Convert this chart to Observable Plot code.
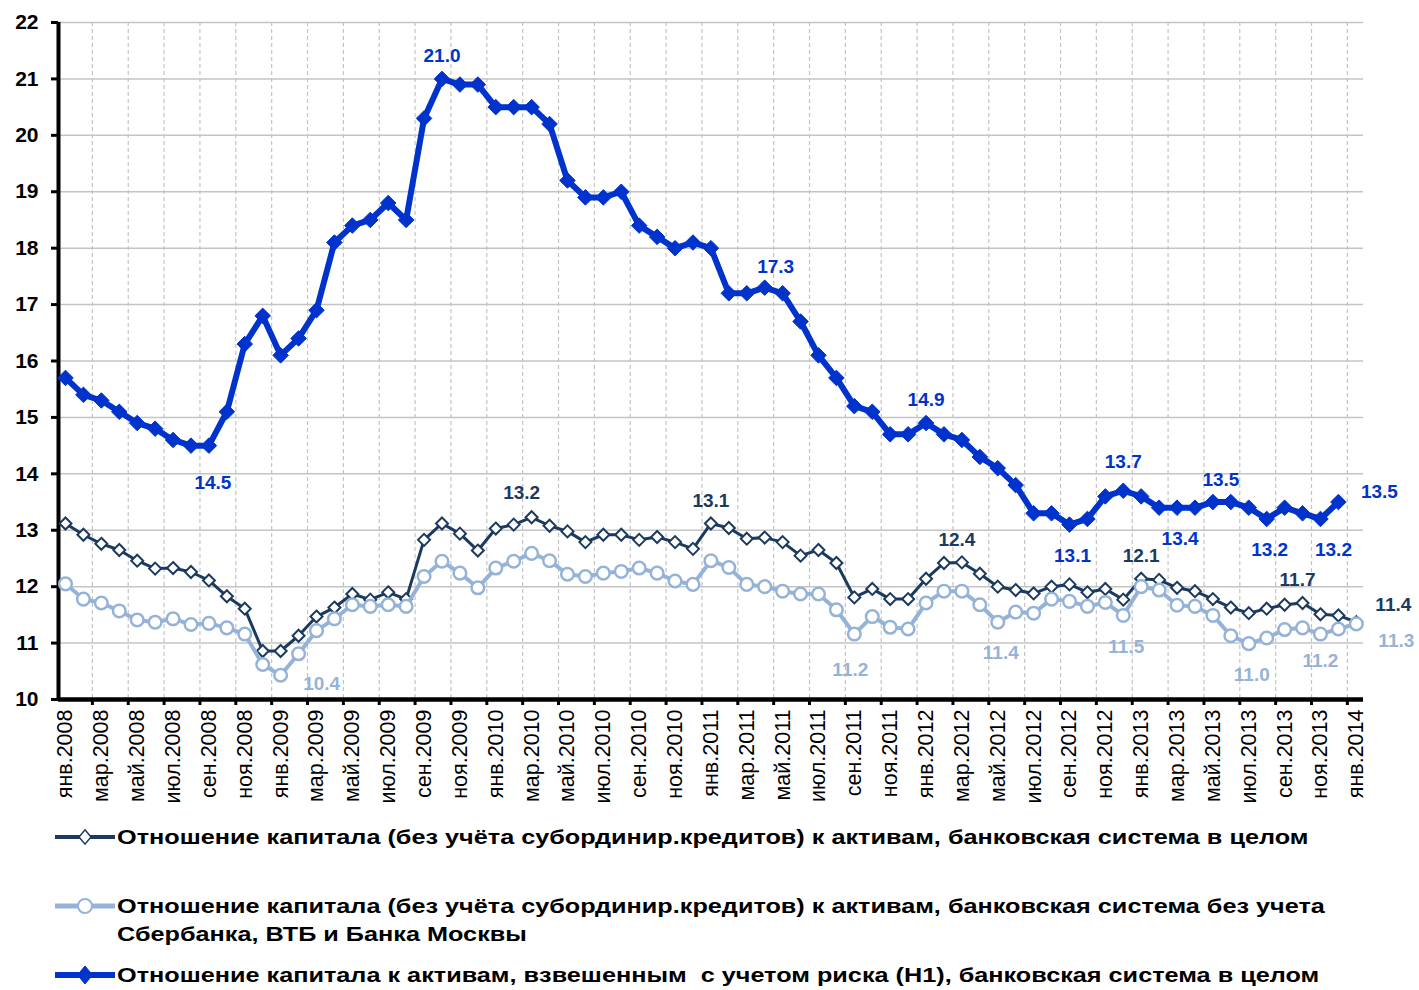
<!DOCTYPE html>
<html><head><meta charset="utf-8">
<script src="https://cdn.jsdelivr.net/npm/d3@7"></script>
<script src="https://cdn.jsdelivr.net/npm/@observablehq/plot@0.6"></script>
<style>
body{margin:0;background:#fff;font-family:"Liberation Sans",Arial,sans-serif;}
#legend{width:1419px;padding-top:8px;}
.entry{height:69px;display:flex;align-items:flex-start;}
.entry svg{flex:none;margin-left:54px;}
.entry .t{font-weight:bold;font-size:20px;line-height:28px;white-space:pre;transform:scaleX(1.262);transform-origin:0 0;margin-left:1px;color:#000;}
</style></head><body>
<div id="chart"></div>
<div id="legend"></div>
<script>
// ---- categories / tick labels ----
const monthNames = ["янв","фев","мар","апр","май","июн","июл","авг","сен","окт","ноя","дек"];
const years = [2008, 2009, 2010, 2011, 2012, 2013, 2014];
const categories = [];
for (const y of years) for (const m of monthNames) if (categories.length < 73) categories.push(m + "." + y);

// ---- series values (monthly, from янв.2008) ----
// Отношение капитала к активам, взвешенным с учетом риска (Н1)
const h1 = [15.7,15.4,15.3,15.1,14.9,14.8,14.6,14.5,14.5,15.1,
  16.3,16.8,16.1,16.4,16.9,18.1,18.4,18.5,18.8,18.5,
  20.3,21.0,20.9,20.9,20.5,20.5,20.5,20.2,19.2,18.9,
  18.9,19.0,18.4,18.2,18.0,18.1,18.0,17.2,17.2,17.3,
  17.2,16.7,16.1,15.7,15.2,15.1,14.7,14.7,14.9,14.7,
  14.6,14.3,14.1,13.8,13.3,13.3,13.1,13.2,13.6,13.7,
  13.6,13.4,13.4,13.4,13.5,13.5,13.4,13.2,13.4,13.3,
  13.2,13.5];
// Капитал (без субординир. кредитов) / активы, банковская система в целом
const capAll = [13.12,12.92,12.76,12.65,12.46,12.32,12.33,12.26,12.11,11.83,
  11.61,10.86,10.86,11.13,11.47,11.63,11.87,11.77,11.90,11.78,
  12.83,13.12,12.94,12.64,13.03,13.10,13.23,13.08,12.98,12.79,
  12.92,12.92,12.83,12.88,12.79,12.67,13.12,13.04,12.85,12.87,
  12.79,12.55,12.65,12.42,11.81,11.96,11.78,11.78,12.14,12.42,
  12.43,12.23,12.00,11.94,11.88,12.00,12.04,11.90,11.96,11.77,
  12.14,12.12,11.98,11.92,11.78,11.63,11.53,11.61,11.68,11.71,
  11.51,11.49,11.37];
// То же без учета Сбербанка, ВТБ и Банка Москвы
const capExcl = [12.05,11.78,11.71,11.57,11.41,11.37,11.43,11.33,11.35,11.27,
  11.16,10.62,10.43,10.81,11.22,11.43,11.68,11.65,11.68,11.65,
  12.18,12.45,12.24,11.98,12.33,12.45,12.59,12.46,12.22,12.18,
  12.24,12.27,12.33,12.24,12.10,12.04,12.46,12.34,12.04,12.00,
  11.92,11.87,11.87,11.59,11.16,11.47,11.28,11.25,11.71,11.92,
  11.92,11.68,11.37,11.55,11.53,11.78,11.74,11.65,11.72,11.49,
  12.00,11.94,11.67,11.65,11.49,11.13,10.99,11.09,11.24,11.27,
  11.16,11.25,11.34];

// ---- annotated points: [index, placement] ----
const h1Labels = [[21,"above"],[8,"belowFar"],[39,"aboveRight"],[48,"above"],[59,"aboveHigh"],[56,"below"],[62,"below"],[64,"aboveRight2"],[67,"below"],[70,"belowRight"],[71,"right"]];
const capAllLabels = [[26,"aboveLeft"],[36,"above"],[50,"aboveLeft2"],[60,"above"],[69,"aboveLeft2"],[72,"rightUp"]];
const capExclLabels = [[12,"belowRight2"],[44,"belowFar2"],[52,"below"],[59,"below"],[66,"below"],[70,"belowNear"],[72,"rightDown"]];

const yTicks = d3.range(10, 23);
const labelTicks = d3.range(0, 73, 2);
const sepTicks = d3.range(1.5, 72, 2);

const legendNames = [
  "Отношение капитала (без учёта субординир.кредитов) к активам, банковская система в целом",
  "Отношение капитала (без учёта субординир.кредитов) к активам, банковская система без учета\nСбербанка, ВТБ и Банка Москвы",
  "Отношение капитала к активам, взвешенным  с учетом риска (Н1), банковская система в целом"
];

// ---- styles ----
const C_NAVY = "#1b3a5e", C_LIGHT = "#95b3d7", C_BLUE = "#0033cc";
const placement = {
  above:{dx:0,dy:-23}, aboveHigh:{dx:0,dy:-29}, aboveRight:{dx:11,dy:-21}, aboveRight2:{dx:8,dy:-22},
  aboveLeft:{dx:-10,dy:-24}, aboveLeft2:{dx:-5,dy:-23},
  below:{dx:3,dy:31}, belowFar:{dx:4,dy:37}, belowFar2:{dx:-4,dy:36}, belowNear:{dx:0,dy:27},
  belowRight:{dx:13,dy:31}, belowRight2:{dx:41,dy:9},
  right:{dx:41,dy:-10}, rightUp:{dx:37,dy:-17}, rightDown:{dx:40,dy:17}
};

const rows = (vals) => vals.map((v, i) => ({i, v}));
const sH1 = rows(h1), sAll = rows(capAll), sExcl = rows(capExcl);

function labelMarks(series, defs, color) {
  const groups = d3.group(defs, d => d[1]);
  const marks = [];
  for (const [pl, list] of groups) {
    const data = list.map(([i]) => series[i]);
    marks.push(Plot.text(data, {x:"i", y:"v", text: d => d.v.toFixed(1), fill: color,
      fontSize: 19, fontWeight: "bold", dx: placement[pl].dx, dy: placement[pl].dy, ariaLabel: "value-label"}));
  }
  return marks;
}

const xDomain = [-0.39, 72.4];
const chart = Plot.plot({
  width: 1419, height: 815,
  marginLeft: 58, marginRight: 56, marginTop: 22, marginBottom: 116,
  x: {type: "linear", domain: xDomain},
  y: {domain: [10, 22]},
  style: {fontFamily: '"Liberation Sans", Arial, sans-serif', background: "white", overflow: "visible", color: "black"},
  marks: [
    Plot.gridY(yTicks, {stroke: "#c4c4c4", strokeOpacity: 1, strokeWidth: 1.5}),
    Plot.gridX(sepTicks, {stroke: "#c4c4c4", strokeOpacity: 1, strokeWidth: 1.2, strokeDasharray: "4,3"}),
    Plot.axisY(yTicks, {tickSize: 7, tickPadding: 13, strokeWidth: 3, fontSize: 21, fontWeight: "bold", tickFormat: d => String(d), label: null}),
    Plot.axisX(sepTicks, {tickSize: 6, strokeWidth: 3, tickFormat: () => "", label: null}),
    Plot.text(labelTicks, {x: d => d, y: () => 10, text: i => categories[i], rotate: -90, textAnchor: "end",
      lineAnchor: "middle", dy: 10, fontSize: 21.5, fill: "black"}),
    Plot.ruleY([10], {stroke: "black", strokeWidth: 4.5}),
    Plot.ruleX([xDomain[0]], {stroke: "black", strokeWidth: 4}),
    Plot.line(sAll, {x: "i", y: "v", stroke: C_NAVY, strokeWidth: 3}),
    Plot.dot(sAll, {x: "i", y: "v", symbol: "diamond2", r: 5.4, fill: "white", stroke: C_NAVY, strokeWidth: 2}),
    Plot.line(sExcl, {x: "i", y: "v", stroke: C_LIGHT, strokeWidth: 4}),
    Plot.dot(sExcl, {x: "i", y: "v", r: 6.3, fill: "white", stroke: C_LIGHT, strokeWidth: 2.5}),
    Plot.line(sH1, {x: "i", y: "v", stroke: C_BLUE, strokeWidth: 6}),
    Plot.dot(sH1, {x: "i", y: "v", symbol: "diamond2", r: 7, fill: C_BLUE, stroke: C_BLUE, strokeWidth: 1}),
    ...labelMarks(sAll, capAllLabels, C_NAVY),
    ...labelMarks(sExcl, capExclLabels, C_LIGHT),
    ...labelMarks(sH1, h1Labels, C_BLUE)
  ]
});
document.getElementById("chart").appendChild(chart);

function stretch(nodes, sx) {
  nodes.forEach(t => {
    const tr = t.getAttribute("transform");
    if (tr && /translate/.test(tr) && !t.hasAttribute("x") && !t.hasAttribute("y")) t.setAttribute("transform", tr + ` scale(${sx},1)`);
  });
}
stretch(chart.querySelectorAll('g[aria-label="value-label"] text'), 1.15);

// ---- legend ----
const legendStyles = [
  {stroke: C_NAVY, lw: 4, sym: "diamond", fill: "white", size: 6, sw: 1.5},
  {stroke: C_LIGHT, lw: 5, sym: "circle", fill: "white", size: 7, sw: 2},
  {stroke: C_BLUE, lw: 6, sym: "diamond", fill: C_BLUE, size: 7.5, sw: 1}
];
const legend = document.getElementById("legend");
legendNames.forEach((name, k) => {
  const s = legendStyles[k];
  const e = document.createElement("div"); e.className = "entry";
  const shape = s.sym === "circle"
    ? `<circle cx="31" cy="14" r="${s.size}" fill="${s.fill}" stroke="${s.stroke}" stroke-width="${s.sw}"/>`
    : `<path d="M31,${14 - s.size * 1.2}L${31 + s.size},14L31,${14 + s.size * 1.2}L${31 - s.size},14Z" fill="${s.fill}" stroke="${s.stroke}" stroke-width="${s.sw}"/>`;
  e.innerHTML = `<svg width="62" height="28"><line x1="1" x2="61" y1="14" y2="14" stroke="${s.stroke}" stroke-width="${s.lw}"/>${shape}</svg>`;
  const t = document.createElement("div"); t.className = "t"; t.textContent = name;
  e.appendChild(t);
  legend.appendChild(e);
});
</script>
</body></html>
